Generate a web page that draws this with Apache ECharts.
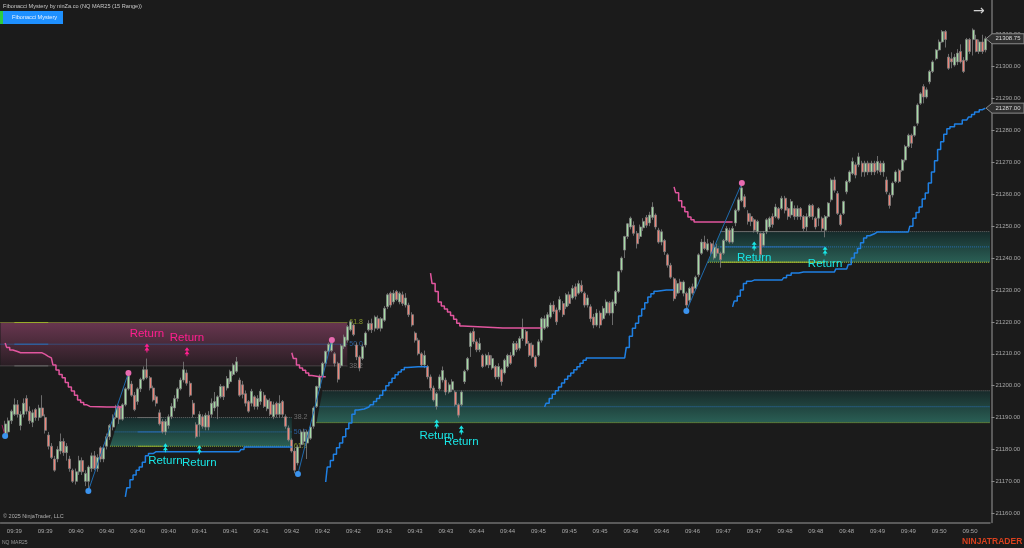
<!DOCTYPE html>
<html>
<head>
<meta charset="utf-8">
<style>html,body{margin:0;padding:0;background:#1b1b1b}#main{width:1024px;height:548px}</style>
<script src="https://cdn.jsdelivr.net/npm/echarts@6/dist/echarts.min.js"></script>
</head>
<body>
<div id="main"></div>
<script>
// range bars, one row of ten per line (bar 0 and bar 320 are empty)
var opens = [
'-',21185,21185.5,21189,21191,21194,21187.5,21191,21196,21192,
21188.5,21192.5,21190,21193,21190,21184.5,21181,21177,21177,21179.5,
21182.5,21179,21177,21173.5,21170,21173,21176.5,21170,21170,21174,
21178,21174,21180.5,21177,21181,21184,21187,21190,21193.5,21189.5,
21194,21199,21200.5,21197,21195,21199,21202,21205,21202.5,21199.25,
21196.5,21191.5,21188.75,21185.5,21187.5,21190.25,21193,21196,21199,21201.75,
21204,21200.75,21194.5,21187.75,21187.75,21190.25,21187,21190.75,21191,21193,
21193.5,21196.5,21199.75,21199.25,21201.25,21203.5,21204.5,21201.75,21200.25,21197.5,
21195,21194.5,21196.5,21193.5,21195,21197,21192.75,21195,21190.25,21194.5,
21191,21195,21190.25,21186.75,21183,21179.5,21175.75,21181.5,21182.5,21182,
21183.5,21187.25,21193.5,21199.25,21203,21207,21210.75,21211,21210,21207,
21206.25,21212.25,21214.25,21217.5,21219,21212.75,21209,21208.5,21212.75,21217.5,
21219.5,21218,21221,21218,21220.5,21224.75,21229,21226.25,21229.5,21226.25,
21228.5,21225.25,21225.25,21222.25,21216.5,21214.25,21210,21206.5,21206,21202.75,
21199.25,21193.5,21199,21201.75,21201.75,21198,21198.75,21198,21194,21194,
21201.25,21205,21212.25,21217,21213.75,21211.25,21209.5,21206.5,21209.5,21205.5,
21206,21202.75,21205,21204,21206,21209.5,21209.5,21213.25,21211.75,21214.75,
21217,21213.25,21212.75,21209,21209.5,21214.25,21218,21218.5,21221.5,21225.25,
21223.75,21223.75,21225.75,21224.75,21228.5,21227.5,21231,21229,21231.5,21229,
21225.25,21224.75,21221.5,21219,21222.75,21221,21222.75,21226,21222.75,21225.75,
21229.5,21236.25,21242.5,21246.75,21249.75,21250.25,21247.75,21246.75,21249.5,21252.75,
21251,21252.75,21253.5,21248.75,21245,21245.5,21241,21237.75,21233.5,21229,
21232.5,21229,21229,21226.75,21231,21230.5,21234.75,21241.5,21245,21242.5,
21244.5,21240,21243,21241.5,21241.5,21245.5,21248.75,21245,21251,21255,
21258,21259.25,21254,21253,21252,21248.25,21247.75,21244,21248.25,21249.75,
21253,21253,21255.5,21255.5,21258.75,21255.5,21253.5,21255.5,21253,21255.5,
21253,21249.75,21253,21256.5,21252.5,21252.5,21252.5,21248.75,21253,21258.25,
21264.5,21260.25,21253.5,21254,21260.75,21264,21266.5,21269.25,21269.25,21269.75,
21267,21269.75,21267,21269.75,21267.5,21269.75,21267,21264.5,21259.75,21259.75,
21264,21267.5,21267.5,21270.75,21275,21278.5,21278.5,21282.25,21288.5,21293.75,
21290.5,21295.25,21298.5,21302.5,21305.25,21307.75,21311,21303,21302.5,21300.5,
21301.5,21304.75,21302,21302,21308.5,21308.5,21308.5,21304.75,21307.75,21305.25,
'-'];
var closes = [
'-',21188,21189,21192,21194,21191,21191,21194.5,21192,21189,
21191.5,21190,21193,21190.5,21186,21181,21177.5,21173.5,21180,21182.5,
21179,21181,21174,21170,21173,21176.5,21173,21172.5,21174.5,21178,
21174,21177.5,21177,21180.5,21184,21187.5,21190,21193.5,21189.5,21194,
21199,21203,21197,21192.5,21199,21202,21205,21202.5,21199.25,21195.5,
21194.5,21188,21185.5,21188.75,21190.25,21193.5,21196,21199,21201.75,21205,
21200.75,21197,21191,21184,21191,21187.25,21190.75,21187,21194.5,21195,
21196.5,21199.75,21196.5,21202.25,21204.5,21206.5,21207.5,21197,21197.25,21194.5,
21192,21198.25,21193.5,21196,21198.25,21193.5,21195.5,21191,21194,21191,
21194.5,21191,21187.25,21183,21179.5,21173.5,21180.75,21185.5,21185.5,21185.5,
21187,21193,21199.75,21203,21207,21210.75,21213,21214,21207,21202,
21212.5,21215.25,21218.5,21220,21216,21209,21205.5,21212.25,21216.5,21219.5,
21217.5,21221.5,21218,21221,21224.25,21228.5,21225.25,21229,21227,21229,
21225.75,21227.5,21222.25,21219,21214.25,21210,21206.5,21209.5,21202.75,21199.25,
21195.5,21197.5,21202.75,21204.75,21198,21200.25,21201.25,21194,21190.75,21198,
21204.5,21208.5,21216.5,21213.75,21211.25,21213.25,21206,21209.5,21206.5,21208.5,
21202.75,21206,21201.25,21208,21209.5,21207,21213.25,21211.25,21214.75,21218,
21213.25,21209.5,21209,21206,21213.75,21221,21221,21222.25,21225.25,21223.25,
21220,21227,21222.25,21228.5,21225.75,21230.5,21228,21232,21229.5,21225.25,
21227.5,21221,21219,21222.75,21219,21224.25,21226.25,21222.75,21226.25,21229.5,
21235.75,21240,21246.75,21250.75,21252.5,21247.75,21244.5,21249.75,21251.5,21250.25,
21253.5,21256,21249.75,21245,21248.25,21242,21237.75,21234,21227.25,21232,
21230,21232.5,21225.25,21230.5,21229,21234,21241,21245,21243,21244.5,
21241.5,21243.5,21241.5,21239.5,21245.5,21249.25,21245,21249.25,21255,21258.25,
21262,21256,21251.5,21251.5,21248.75,21251.5,21241,21247.75,21252,21252.5,
21250.5,21256,21252.5,21258.75,21255,21253,21257.75,21253,21255.5,21253,
21249.25,21253,21256.5,21253,21249.75,21255.5,21249.25,21253,21257.25,21264.5,
21261.25,21254,21250.5,21257.75,21264,21267,21270.25,21266,21271.75,21267,
21269.75,21267,21269.75,21267,21270.25,21267,21269.75,21260.75,21256.5,21263.5,
21267,21264,21270.75,21275,21278.5,21276,21281.25,21288,21291.5,21290.5,
21292.75,21298.5,21301.5,21305.25,21307.75,21311,21308.5,21299.5,21301.5,21303,
21304.25,21301.5,21298.5,21308.5,21304.75,21311.5,21304.75,21307.75,21304.75,21308.75,
'-'];
var lows = [
'-',21184,21184.5,21188,21190.5,21190,21186,21190,21191,21188,
21187,21189,21189,21190,21185,21180,21177,21173,21176,21178.5,
21178,21176.5,21173,21169.5,21169,21172,21172,21168.5,21167.5,21173,
21173.5,21173,21176,21176,21180,21183,21186,21189.5,21188,21189,
21193.5,21198.5,21196.5,21192,21194,21198,21201.5,21202,21198.5,21195,
21193.5,21187.5,21185,21184.5,21186.5,21189.5,21192,21195,21198.5,21201,
21200,21196.5,21190,21183.5,21184,21186.5,21186,21186,21190,21192,
21189.5,21196,21195.5,21198.5,21200.5,21203,21204,21196.5,21196,21193.5,
21191.5,21193.5,21192.5,21192.5,21194,21193,21192,21190.5,21189.5,21190,
21190,21190,21186.5,21182.5,21179,21172.5,21175,21180.5,21181.5,21177,
21183,21186.5,21193,21198.5,21202.5,21206.5,21210,21210.5,21206,21201,
21205.5,21211.5,21213.5,21217,21215.5,21208,21204.5,21208,21212,21217,
21216.5,21217,21217.5,21217,21220,21224,21224.5,21225.5,21226.5,21225.5,
21225,21224.5,21221.5,21218.5,21213.5,21209.5,21206,21205.5,21202,21198.5,
21195,21192.5,21198.5,21201,21197,21197.5,21198,21193.5,21190,21193.5,
21200.5,21204.5,21209,21213,21210.5,21210.5,21205.5,21206,21205.5,21205,
21202,21202,21200,21203.5,21205.5,21206.5,21209,21210.5,21211,21214,
21212.5,21209,21208.5,21205.5,21209,21213.5,21217.5,21218,21221,21222.5,
21219,21223,21221.5,21224,21225,21227,21227,21228.5,21229,21224.5,
21224.5,21220,21218,21218.5,21218,21220.5,21222,21222,21219,21225,
21229,21235.5,21240,21246,21249,21247,21243,21246,21248.5,21249.5,
21250,21252,21249,21244.5,21244,21241,21237,21233.5,21226.5,21228,
21229,21228,21223.5,21226,21228.5,21230,21234,21241,21242.5,21242,
21241,21239.5,21240.5,21237,21241,21245,21244.5,21244.5,21250,21254.5,
21257.5,21255.5,21250.5,21250,21248,21247.5,21240,21243.5,21247.5,21249,
21249.5,21252.5,21252,21255,21254,21252,21252.5,21252,21252,21252,
21248.5,21248.5,21252.5,21252,21249,21250,21248.5,21246.5,21252.5,21257.5,
21260.5,21253.5,21250,21253.5,21260,21263.5,21266,21265,21268.5,21265.5,
21265.5,21266,21266,21266,21266.5,21266,21265.5,21260,21255.5,21259,
21263.5,21263.5,21267,21270,21274.5,21274.5,21278,21281.5,21288,21288.5,
21290,21294.5,21298,21302,21305,21307.5,21306,21299,21299.5,21300,
21300.5,21301,21298,21301.5,21304,21303.5,21304.5,21304,21304,21304.5,
'-'];
var highs = [
'-',21189,21190,21192.5,21196,21195.5,21192,21196,21197,21193.5,
21192.5,21193,21194,21197,21191,21185.5,21182,21178,21181,21185,
21183.5,21182,21178,21174,21174,21178,21177.5,21173.5,21175,21179,
21179.5,21178.5,21181,21181.5,21185,21188,21191,21194,21194,21194.5,
21199.5,21204,21201.5,21198,21199.5,21202.5,21206,21208.5,21203,21200,
21197,21192.5,21189.5,21189.5,21191,21194.5,21197,21199.5,21202.5,21207.5,
21205,21201.5,21195.5,21188.5,21192,21191,21191.5,21192,21196,21198,
21197,21200.5,21200,21203,21205,21207,21209,21202.5,21201.5,21198.5,
21195.5,21199,21197,21197,21199,21198,21196,21196,21195,21195,
21197,21195.5,21191,21187.5,21183.5,21180.5,21181.5,21186,21186.5,21186,
21188,21193.5,21200,21203.5,21207.5,21211,21213.5,21214.5,21210.5,21207.5,
21213,21216,21219,21220.5,21219.5,21213.5,21209.5,21213,21217,21220.5,
21221,21222,21222,21221.5,21225,21229,21229.5,21230,21230,21229.5,
21229.5,21229,21226,21223,21217,21215,21210.5,21211,21206.5,21203.5,
21200,21198,21203.5,21206,21202.5,21201,21202,21198.5,21194.5,21198.5,
21205,21209,21217,21218,21214.5,21215,21210,21210,21210.5,21209.5,
21206.5,21207,21205.5,21208.5,21210,21210.5,21214,21214,21215.5,21221,
21217.5,21214,21213.5,21209.5,21214.5,21221.5,21222,21223,21226,21226.5,
21224.5,21228,21226.5,21229,21229.5,21231.5,21232,21233,21233,21229.5,
21228.5,21225.5,21222.5,21224,21223.5,21225,21227,21226.5,21227,21230,
21236,21240.5,21247,21251,21253,21251.5,21248.5,21250.5,21252.5,21253.5,
21254.5,21257.5,21254,21249.5,21249,21246,21241.5,21238.5,21234,21233,
21233.5,21233,21229.5,21231,21232,21234.5,21241.5,21246,21247,21246,
21245,21245.5,21244.5,21242,21246,21250,21249.5,21250,21255.5,21259,
21263,21260,21255,21254,21252.5,21252,21248,21248.5,21252.5,21253,
21254,21257,21256,21259.5,21259.5,21256,21258.5,21256.5,21256.5,21256,
21253.5,21254,21257,21257,21253,21256,21253,21253.5,21257.5,21265,
21265.5,21261,21254,21258,21264.5,21267.5,21271.5,21270,21273,21270.5,
21270.5,21270.5,21270.5,21270.5,21272,21270.5,21270.5,21265.5,21260.5,21264,
21267.5,21268,21271,21275.5,21279,21279,21281.5,21288.5,21292,21294.5,
21293.5,21299,21302,21305.5,21308.5,21311.5,21311.5,21304,21304.5,21304,
21305.5,21307,21303,21309,21309,21312,21310,21308.5,21310,21309.5,
'-'];

var timeLabels = ['09:39','09:39','09:40','09:40','09:40','09:40','09:41','09:41','09:41','09:42','09:42','09:42',
    '09:43','09:43','09:43','09:44','09:44','09:45','09:45','09:45','09:46','09:46','09:46','09:47','09:47','09:48',
    '09:48','09:48','09:49','09:49','09:50','09:50'];
var priceTicks = [21160,21170,21180,21190,21200,21210,21220,21230,21240,21250,21260,21270,21280,21290,21300,21310];
var lastPrices = [21308.75, 21287];

// trailing stop lines, [bar, price]
var pinkTrail1 = [[1,21213.4],[2,21212],[3,21211.2],[4,21210.7],[6,21210.3],[13,21210.3],[14,21209.8],[15,21209.2],[16,21208.7],[17,21206.5],[18,21204.9],[19,21203.5],[20,21202.5],[21,21201],[22,21199.6],[23,21198.3],[24,21197],[25,21195.5],[26,21194.7],[27,21194],[28,21193.5],[29,21193.3],[39,21193.3]];
var pinkTrail2 = [[94,21210.3],[95,21208.5],[96,21206.5],[97,21205.5],[98,21204.8],[99,21204],[100,21203.2],[101,21202.8],[105,21202.8]];
var pinkTrail3 = [[139,21235.3],[140,21232],[141,21229.5],[142,21226.2],[143,21225],[144,21224],[145,21223.1],[146,21222],[147,21220.8],[148,21219.6],[149,21218.7],[150,21218.1],[175,21218.1]];
var pinkTrail4 = [[218,21262.3],[219,21260.5],[220,21258],[221,21256],[222,21254.5],[223,21252.9],[224,21252],[225,21251.3],[237,21251.3]];
var blueTrail1 = [[40,21165.1],[41,21168],[42,21170.5],[43,21172],[44,21173.5],[45,21174.5],[46,21176],[47,21178],[48,21178.7],[50,21179.3],[77,21179.3],[78,21180],[79,21180.8],[94,21180.8]];
var blueTrail2 = [[105,21169.8],[106,21174.5],[107,21176.5],[108,21178.5],[109,21180.5],[110,21182],[111,21184],[112,21186.5],[113,21188.3],[114,21191],[115,21192.4],[116,21192.7],[119,21193.3],[120,21194],[121,21195],[122,21196],[123,21197],[124,21198.5],[125,21200],[126,21201],[127,21202.3],[128,21203.4],[129,21204.3],[130,21205],[131,21205.7],[132,21205.9],[138,21205.9]];
var blueTrail3 = [[176,21193.3],[177,21194.5],[178,21196],[179,21197.3],[180,21198.4],[181,21199.6],[182,21200.8],[183,21202],[184,21203],[185,21204],[186,21205],[187,21205.9],[188,21207],[189,21208],[190,21208.7],[202,21208.7],[203,21212],[204,21215.5],[205,21218],[206,21219.6],[207,21221.8],[208,21224],[209,21226],[210,21227.8],[211,21228.8],[212,21229.6],[213,21230],[218,21230]];
var blueTrail4 = [[237,21224.7],[238,21226.5],[239,21228],[240,21230],[241,21232],[242,21232.7],[244,21233.1],[253,21233.1],[254,21233.8],[255,21234.6],[257,21235.3],[260,21235.6],[270,21235.6],[271,21236.6],[274,21236.6],[275,21238],[276,21240],[277,21241.6],[278,21243],[279,21244.8],[280,21246.3],[281,21247],[282,21247.6],[284,21248.2],[294,21248.2],[295,21250],[296,21252.5],[297,21254.3],[298,21256],[299,21258.5],[300,21260.4],[301,21263.5],[302,21267],[303,21270.5],[304,21274],[305,21276.5],[306,21278.8],[307,21280.5],[308,21281.2],[310,21282],[313,21283.3],[314,21284.2],[315,21285],[316,21285.8],[318,21286.5],[319,21287]];

// swing legs and pivots
var swingLeg0 = [[0,21187.7],[1,21184.2]];
var swingLeg1 = [[28,21167],[41,21204]];
var swingLeg2 = [[96,21172.3],[107,21214.3]];
var swingLeg3 = [[222,21223.4],[240,21263.5]];
var lowPivots = [[1,21184.2],[28,21167],[96,21172.3],[222,21223.4]];
var highPivots = [[41,21204],[107,21214.3],[240,21263.5]];

// fibonacci zones: pink, first teal, second teal, third teal
var zoneStartTop = [0,38,104,233];
var zoneStartBottom = [0,35,102,229];
var zoneEnd = [112,94,320,320];
var zoneTop = [21219.8,21190,21198.4,21248.3];
var zoneMid = [21213,21185.5,21193.4,21243.5];
var zoneBottom = [21206.2,21181,21188.4,21238.7];
var zoneSolidFrom = [4,44,-1,233];
var zoneSolidTo = [15,52,-1,267];

// "Return" signals, [bar, price]
var pinkArrows = [[47,21211.8],[60,21210.6]];
var pinkReturns = [[47,21216.2],[60,21215]];
var cyanArrows = [[53,21180.5],[64,21179.9],[141,21188],[149,21186.1],[244,21243.8],[267,21242.2]];
var cyanReturns = [[53,21176.4],[64,21175.8],[141,21184.2],[149,21182.3],[244,21240],[267,21238.2]];

var categories = [];
for (var i = 0; i < opens.length; i++) {
    categories.push((i - 4) % 10 === 0 && timeLabels[(i - 4) / 10] ? timeLabels[(i - 4) / 10] : '');
}
var candles = [];
for (var j = 0; j < opens.length; j++) {
    candles.push(opens[j] === '-' ? '-' : [opens[j], closes[j], lows[j], highs[j]]);
}
function isLabelBar(index) {
    return categories[index] !== '';
}

var FONT = '"Liberation Sans", Arial, sans-serif';
var LAST_BAR = opens.length - 1;
var doubleUp = 'path://M5 0L10 4H6V5L10 8.5H6V11H4V8.5H0L4 5V4H0Z';

var zoneStyles = [
    {top: '#68364f', bottom: '#2a1e24', labels: ['61.8', '50.0', '38.2'], lines: ['#9aae2c', '#2a6db5', '#6a6a6a']},
    {top: '#162a2a', bottom: '#2a5f55', labels: ['38.2', '50.0', '61.8'], lines: ['#6a6a6a', '#2a6db5', '#8ea82e']},
    {top: '#172929', bottom: '#2a5f55', labels: null, lines: ['#6a6a6a', '#2a6db5', '#8ea82e']},
    {top: '#162a2a', bottom: '#2a5f55', labels: null, lines: ['#6a6a6a', '#2a6db5', '#a8bd30']}
];
var labelColors = {'38.2': '#6f6f6f', '50.0': '#2a5f9e', '61.8': '#8a9a2c'};

function renderZone(params, api) {
    var i = params.dataIndex, cs = params.coordSys, st = zoneStyles[i];
    function X(bar) {
        if (bar === 0) return cs.x;
        if (bar === LAST_BAR) return cs.x + cs.width;
        return api.coord([bar, 0])[0];
    }
    function Y(p) { return api.coord([0, p])[1]; }
    var yt = Y(zoneTop[i]), ym = Y(zoneMid[i]), yb = Y(zoneBottom[i]);
    var xr = X(zoneEnd[i]), xt = X(zoneStartTop[i]), xb = X(zoneStartBottom[i]);
    var xm = (xt + xb) / 2;
    var kids = [{
        type: 'polygon',
        shape: {points: [[xt, yt], [xr, yt], [xr, yb], [xb, yb]]},
        style: {fill: new echarts.graphic.LinearGradient(0, 0, 0, 1, [
            {offset: 0, color: st.top}, {offset: 1, color: st.bottom}
        ])}
    }];
    var rows = [[xt, yt], [xm, ym], [xb, yb]];
    rows.forEach(function (r, k) {
        kids.push({
            type: 'line',
            shape: {x1: r[0], y1: r[1], x2: xr, y2: r[1]},
            style: {stroke: st.lines[k], lineWidth: 1, lineDash: [1, 1]}
        });
        if (zoneSolidFrom[i] >= 0) {
            kids.push({
                type: 'line',
                shape: {x1: X(zoneSolidFrom[i]), y1: r[1], x2: X(zoneSolidTo[i]), y2: r[1]},
                style: {stroke: st.lines[k], lineWidth: 1}
            });
        }
        if (st.labels) {
            kids.push({
                type: 'text',
                style: {x: xr + 2, y: r[1], text: st.labels[k], fill: labelColors[st.labels[k]],
                    font: '7px ' + FONT, verticalAlign: 'middle', align: 'left'}
            });
        }
    });
    return {type: 'group', children: kids};
}

function renderTag(params, api) {
    var cs = params.coordSys;
    var y = api.coord([0, api.value(1)])[1];
    var r = cs.x + cs.width;
    return {type: 'group', children: [{
        type: 'polygon',
        shape: {points: [[r - 4, y], [r + 2, y - 5], [1024, y - 5], [1024, y + 5], [r + 2, y + 5]]},
        style: {fill: '#303030', stroke: '#8a8a8a', lineWidth: 1}
    }, {
        type: 'text',
        style: {x: r + 18, y: y, text: api.value(1).toFixed(2), fill: '#dcdcdc', font: '6px ' + FONT,
            align: 'center', verticalAlign: 'middle'}
    }]};
}

var series = [
    {type: 'custom', name: 'zones', renderItem: renderZone, z: 1, silent: true,
     data: zoneEnd.map(function (e, i) { return [e, zoneTop[i]]; })},
    {type: 'candlestick', name: 'NQ', data: candles, barWidth: 2.5, z: 3,
     itemStyle: {color: '#a5dca5', color0: '#f08478', borderColor: '#808080', borderColor0: '#808080', borderWidth: 0.8}}
];
[pinkTrail1, pinkTrail2, pinkTrail3, pinkTrail4].forEach(function (d) {
    series.push({type: 'line', data: d, step: 'middle', symbol: 'none', z: 4, lineStyle: {color: '#e2569f', width: 1.5}});
});
[blueTrail1, blueTrail2, blueTrail3, blueTrail4].forEach(function (d) {
    series.push({type: 'line', data: d, step: 'middle', symbol: 'none', z: 4, lineStyle: {color: '#1f80e4', width: 1.5}});
});
series.push({type: 'line', data: swingLeg0, symbol: 'none', z: 4, lineStyle: {color: '#a0205f', width: 1}});
[swingLeg1, swingLeg2, swingLeg3].forEach(function (d) {
    series.push({type: 'line', data: d, symbol: 'none', z: 4, lineStyle: {color: '#1f6aae', width: 1}});
});
series.push({type: 'scatter', data: lowPivots, symbolSize: 6, z: 5, itemStyle: {color: '#3b93ee', opacity: 1}});
series.push({type: 'scatter', data: highPivots, symbolSize: 6, z: 5, itemStyle: {color: '#e86ab0', opacity: 1}});
function signal(arrows, returns, color) {
    series.push({type: 'scatter', data: arrows, symbol: doubleUp, symbolSize: [5, 9], z: 6, itemStyle: {color: color, opacity: 1}});
    series.push({type: 'scatter', data: returns, symbol: 'circle', symbolSize: 1, z: 6, itemStyle: {color: 'transparent', opacity: 1},
        label: {show: true, position: 'inside', formatter: 'Return', color: color, fontSize: 11.5, fontFamily: FONT}});
}
signal(pinkArrows, pinkReturns, '#ff1f8f');
signal(cyanArrows, cyanReturns, '#19e6e6');
series.push({type: 'custom', name: 'tags', renderItem: renderTag, z: 8, silent: true,
    data: lastPrices.map(function (p) { return [LAST_BAR, p]; })});

var myChart = echarts.init(document.getElementById('main'));
myChart.setOption({
    animation: false,
    backgroundColor: '#1b1b1b',
    grid: {left: 0.5, top: 0, width: 989.5, height: 522.5, containLabel: false},
    xAxis: {
        type: 'category',
        data: categories,
        boundaryGap: true,
        axisLine: {lineStyle: {color: '#707070', width: 1.5}},
        axisTick: {interval: isLabelBarTick, alignWithLabel: true, length: 3, lineStyle: {color: '#8a8a8a'}},
        axisLabel: {interval: isLabelBarTick, color: '#a8a8a8', fontSize: 6, fontFamily: FONT, margin: 6},
        splitLine: {show: false}
    },
    yAxis: {
        type: 'value',
        position: 'right',
        offset: 1.5,
        min: 21157.1,
        max: 21320.9,
        axisLine: {show: true, lineStyle: {color: '#707070', width: 1.5}},
        axisTick: {show: true, customValues: priceTicks, length: 3, lineStyle: {color: '#8a8a8a'}},
        axisLabel: {customValues: priceTicks, color: '#a8a8a8', fontSize: 6, fontFamily: FONT, margin: 4,
            formatter: function (v) { return v.toFixed(2); }},
        splitLine: {show: false}
    },
    graphic: [
        {type: 'text', left: 3, top: 3, style: {text: 'Fibonacci Mystery by ninZa.co (NQ MAR25 (15 Range))', fill: '#c8c8c8', font: '5.6px ' + FONT}},
        {type: 'rect', left: 0, top: 11, shape: {width: 3, height: 13}, style: {fill: '#2ecc40'}},
        {type: 'rect', left: 3, top: 11, shape: {width: 60, height: 13}, style: {fill: '#1e90ff'}},
        {type: 'text', left: 12, top: 14.5, style: {text: 'Fibonacci Mystery', fill: '#e8f2ff', font: '5.6px ' + FONT}},
        {type: 'text', left: 3, top: 513, style: {text: '\u00a9 2025 NinjaTrader, LLC', fill: '#b0b0b0', font: '5.5px ' + FONT}},
        {type: 'text', left: 2, top: 540, style: {text: 'NQ MAR25', fill: '#9a9a9a', font: '5px ' + FONT}},
        {type: 'text', left: 962, top: 537, style: {text: 'NINJATRADER', fill: '#d8401e', font: 'bold 8.5px ' + FONT}},
        {type: 'text', left: 973, top: 4, style: {text: '\u2192', fill: '#d0d0d0', font: '14px "DejaVu Sans"'}}
    ],
    series: series
});
function isLabelBarTick(index) {
    return isLabelBar(index);
}
</script>
</body>
</html>
